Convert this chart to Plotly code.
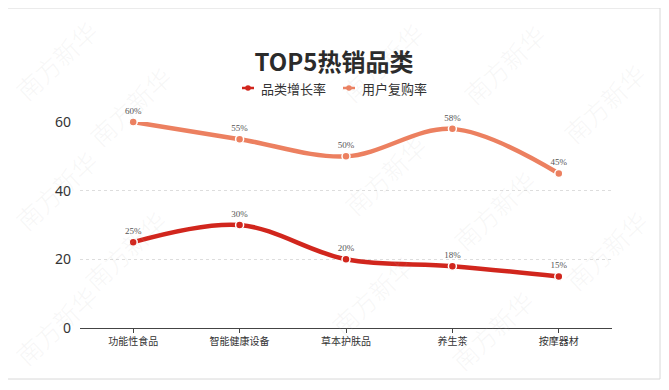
import plotly.graph_objects as go

categories = ["功能性食品", "智能健康设备", "草本护肤品", "养生茶", "按摩器材"]
growth_rate = [25, 30, 20, 18, 15]
repurchase_rate = [60, 55, 50, 58, 45]
series_names = ["品类增长率", "用户复购率"]
y_ticks = [0, 20, 40, 60]

RED = "#d1261d"
ORANGE = "#ec8060"

OFF = 8  # page body margin
W, H = 669, 390
ML, MT = 80 - OFF, 122 - OFF
PW, PH = 612 - 80, 328 - 122
MR, MB = W - ML - PW, H - MT - PH

def px2paper(x, y):
    # x, y in screenshot pixels
    return (x - OFF - ML) / PW, (MT + PH - (y - OFF)) / PH

fig = go.Figure()
for name, vals, col in [(series_names[0], growth_rate, RED), (series_names[1], repurchase_rate, ORANGE)]:
    fig.add_trace(go.Scatter(
        x=categories, y=vals, name=name, mode="lines+markers+text",
        line=dict(color=col, width=4.5, shape="spline", smoothing=1.0),
        marker=dict(size=8, color=col, line=dict(color="white", width=1.5)),
        text=[f"{v}%" for v in vals], textposition="top center",
        textfont=dict(family="Liberation Serif, DejaVu Serif, serif", size=9, color="#555555"),
        cliponaxis=False, showlegend=False,
    ))

annotations = []
shapes = []

# watermarks
wm_pos = [(56, 60), (130, 106), (56, 190), (125, 250), (56, 325),
          (382, 62), (385, 175), (372, 295),
          (504, 64), (494, 210), (492, 330),
          (604, 103), (606, 250)]
for (x, y) in wm_pos:
    px, py = px2paper(x, y)
    annotations.append(dict(x=px, y=py, xref="paper", yref="paper", text="南方新华",
                            showarrow=False, textangle=-43, xanchor="center", yanchor="middle",
                            font=dict(family="Noto Sans CJK SC", size=25, weight=300,
                                      color="rgba(185,185,185,0.13)")))

# custom compact legend
legend_items = [(248, series_names[0], RED), (349, series_names[1], ORANGE)]
for (lx, name, col) in legend_items:
    ax0, ay = px2paper(lx - 6, 88)
    ax1, _ = px2paper(lx + 6, 88)
    shapes.append(dict(type="line", xref="paper", yref="paper", x0=ax0, x1=ax1, y0=ay, y1=ay,
                       line=dict(color=col, width=2.5)))
    cx0, cy0 = px2paper(lx - 2.8, 85.2)
    cx1, cy1 = px2paper(lx + 2.8, 90.8)
    shapes.append(dict(type="circle", xref="paper", yref="paper", x0=cx0, x1=cx1, y0=cy0, y1=cy1,
                       fillcolor=col, line=dict(color=col, width=0)))
    tx, ty = px2paper(lx + 11, 88)
    annotations.append(dict(x=tx, y=ty, xref="paper", yref="paper", text=name, showarrow=False,
                            xanchor="left", yanchor="middle",
                            font=dict(family="Noto Sans CJK SC", size=13, color="#333333")))

bx0, by0 = px2paper(7, 379)
bx1, by1 = px2paper(660, 8)
shapes.append(dict(type="rect", xref="paper", yref="paper", x0=bx0, y0=by0, x1=bx1, y1=by1,
                   line=dict(color="#d8d8d8", width=1), layer="below"))

fig.update_layout(
    width=W, height=H,
    margin=dict(l=ML, r=MR, t=MT, b=MB),
    paper_bgcolor="white", plot_bgcolor="white",
    title=dict(text="<b>TOP5热销品类</b>", x=(334 - OFF) / W, xref="container", xanchor="center",
               y=1 - (63 - OFF) / H, yref="container", yanchor="middle",
               font=dict(family="Noto Sans CJK SC", size=24, color="#2b2b2b")),
    xaxis=dict(range=[-0.5, 4.5], showgrid=False, showline=True, linecolor="#444444", linewidth=1,
               ticks="outside", ticklen=4, tickcolor="#444444",
               tickfont=dict(family="Noto Sans CJK SC", size=10, color="#333333"), zeroline=False),
    yaxis=dict(range=[0, 60], tickvals=y_ticks, showgrid=True, gridcolor="#dddddd", griddash="dot",
               gridwidth=1, zeroline=False, showline=False, ticks="",
               tickfont=dict(family="Noto Sans, DejaVu Sans", size=14, color="#333333"),
               ticklabelstandoff=8),
    annotations=annotations,
    shapes=shapes,
    showlegend=False,
)

fig.write_html("out.html")
